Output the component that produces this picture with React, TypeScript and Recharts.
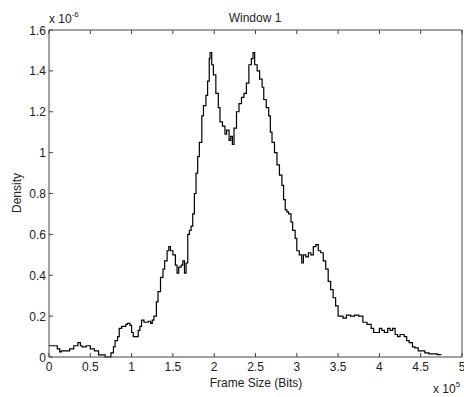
import { LineChart, Line, XAxis, YAxis } from 'recharts';

// frame size in units of 1e5 bits
const frameSizes = [
  0.0, 0.05, 0.1, 0.13, 0.15, 0.2, 0.25, 0.3, 0.35, 0.38, 0.4, 0.45, 0.5, 0.55, 0.6, 0.65, 0.68, 0.72,
  0.75, 0.78, 0.8, 0.83, 0.85, 0.88, 0.9, 0.93, 0.95, 0.98, 1.0, 1.02, 1.05, 1.08, 1.1, 1.12, 1.15, 1.18,
  1.2, 1.23, 1.25, 1.27, 1.3, 1.32, 1.35, 1.38, 1.4, 1.43, 1.45, 1.47, 1.5, 1.53, 1.55, 1.57, 1.6, 1.62,
  1.64, 1.66, 1.68, 1.7, 1.72, 1.74, 1.76, 1.78, 1.8, 1.82, 1.85, 1.87, 1.9, 1.92, 1.94, 1.95, 1.97, 1.99,
  2.02, 2.05, 2.07, 2.1, 2.13, 2.15, 2.18, 2.2, 2.22, 2.24, 2.27, 2.3, 2.33, 2.36, 2.39, 2.42, 2.45, 2.47,
  2.49, 2.52, 2.55, 2.58, 2.6, 2.63, 2.66, 2.68, 2.7, 2.73, 2.76, 2.79, 2.82, 2.84, 2.86, 2.88, 2.9, 2.93,
  2.95, 2.98, 3.0, 3.03, 3.06, 3.08, 3.11, 3.14, 3.17, 3.2, 3.23, 3.26, 3.29, 3.32, 3.35, 3.38, 3.41, 3.44,
  3.47, 3.5, 3.53, 3.56, 3.6, 3.65, 3.7, 3.75, 3.78, 3.8, 3.85, 3.9, 3.93, 3.96, 4.0, 4.03, 4.06, 4.1,
  4.13, 4.16, 4.19, 4.22, 4.25, 4.3, 4.33, 4.36, 4.4, 4.43, 4.47, 4.5, 4.55, 4.6, 4.65, 4.7, 4.75,
];

// density in units of 1e-6
const densities = [
  0.055, 0.055, 0.04, 0.025, 0.03, 0.03, 0.04, 0.055, 0.07, 0.055, 0.05, 0.055, 0.04, 0.03, 0.01, 0.01, 0.0, 0.0,
  0.02, 0.05, 0.08, 0.1, 0.14, 0.15, 0.15, 0.16, 0.165, 0.155, 0.12, 0.1, 0.1, 0.13, 0.15, 0.18, 0.17, 0.17,
  0.175, 0.165, 0.18, 0.2, 0.27, 0.32, 0.39, 0.43, 0.47, 0.52, 0.54, 0.52, 0.5, 0.45, 0.41, 0.44, 0.45, 0.47,
  0.41, 0.46, 0.6, 0.62, 0.64, 0.7, 0.8, 0.9, 0.98, 1.05, 1.18, 1.23, 1.28, 1.35, 1.46, 1.49, 1.43, 1.38,
  1.29, 1.22, 1.15, 1.13, 1.09, 1.11, 1.06, 1.08, 1.04, 1.12, 1.2, 1.24, 1.27, 1.29, 1.34, 1.43, 1.46, 1.49,
  1.43, 1.4, 1.36, 1.32, 1.26, 1.22, 1.18, 1.1, 1.05, 1.0, 0.94, 0.89, 0.84, 0.77, 0.72, 0.71, 0.7, 0.66,
  0.62, 0.58, 0.52, 0.5, 0.46, 0.5, 0.49, 0.51, 0.5, 0.54, 0.55, 0.52, 0.51, 0.47, 0.43, 0.37, 0.33, 0.29,
  0.25, 0.2, 0.2, 0.19, 0.205, 0.2, 0.205, 0.2, 0.2, 0.17, 0.16, 0.14, 0.12, 0.12, 0.14, 0.13, 0.12, 0.14,
  0.13, 0.14, 0.11, 0.1, 0.11, 0.1, 0.08, 0.07, 0.05, 0.045, 0.03, 0.03, 0.02, 0.015, 0.015, 0.012, 0.012,
];

const xTicks = [0, 0.5, 1, 1.5, 2, 2.5, 3, 3.5, 4, 4.5, 5];
const yTicks = [0, 0.2, 0.4, 0.6, 0.8, 1, 1.2, 1.4, 1.6];

const data = frameSizes.map((x, i) => ({ x, y: densities[i] }));

const FONT = '"Liberation Sans", Arial, sans-serif';
const AXIS = '#444';
const TEXT = '#222';

const BottomTick = ({ x, y, payload }: any) => (
  <g>
    <line x1={x} y1={y} x2={x} y2={y - 4} stroke={AXIS} />
    <text x={x} y={y + 14} textAnchor="middle" fontSize={12} fontFamily={FONT} fill={TEXT}>
      {payload.value}
    </text>
  </g>
);

const TopTick = ({ x, y }: any) => <line x1={x} y1={y} x2={x} y2={y + 4} stroke={AXIS} />;

const LeftTick = ({ x, y, payload }: any) => (
  <g>
    <line x1={x} y1={y} x2={x + 4} y2={y} stroke={AXIS} />
    <text x={x - 3} y={y + 4.5} textAnchor="end" fontSize={12} fontFamily={FONT} fill={TEXT}>
      {payload.value}
    </text>
  </g>
);

const RightTick = ({ x, y }: any) => <line x1={x} y1={y} x2={x - 4} y2={y} stroke={AXIS} />;

export default function App() {
  return (
    <div style={{ position: 'absolute', left: 0, top: 0, width: 464, height: 397, background: '#fff' }}>
      <LineChart width={464} height={397} data={data} margin={{ top: 0, right: 0, bottom: 0, left: 0 }}>
        <XAxis
          xAxisId="b"
          dataKey="x"
          type="number"
          domain={[0, 5]}
          ticks={xTicks}
          interval={0}
          height={40}
          tickLine={false}
          tickSize={0}
          tickMargin={0}
          stroke={AXIS}
          tick={<BottomTick />}
        />
        <XAxis
          xAxisId="t"
          orientation="top"
          dataKey="x"
          type="number"
          domain={[0, 5]}
          ticks={xTicks}
          interval={0}
          height={30}
          tickLine={false}
          tickSize={0}
          tickMargin={0}
          stroke={AXIS}
          tick={<TopTick />}
        />
        <YAxis
          yAxisId="l"
          type="number"
          domain={[0, 1.6]}
          ticks={yTicks}
          interval={0}
          width={49}
          tickLine={false}
          tickSize={0}
          tickMargin={0}
          stroke={AXIS}
          tick={<LeftTick />}
        />
        <YAxis
          yAxisId="r"
          orientation="right"
          type="number"
          domain={[0, 1.6]}
          ticks={yTicks}
          interval={0}
          width={2}
          tickLine={false}
          tickSize={0}
          tickMargin={0}
          stroke={AXIS}
          tick={<RightTick />}
        />
        <Line
          xAxisId="b"
          yAxisId="l"
          type="stepAfter"
          dataKey="y"
          stroke="#000"
          strokeWidth={1.2}
          dot={false}
          isAnimationActive={false}
        />
      </LineChart>
      <svg
        width={464}
        height={397}
        style={{ position: 'absolute', left: 0, top: 0, pointerEvents: 'none' }}
        fontFamily={FONT}
        fill={TEXT}
      >
        <text x={255} y={22} textAnchor="middle" fontSize={12}>Window 1</text>
        <text x={49} y={23} fontSize={12}>
          x 10<tspan dy={-6} fontSize={8}>-6</tspan>
        </text>
        <text x={256} y={387} textAnchor="middle" fontSize={12}>Frame Size (Bits)</text>
        <text x={433} y={393} fontSize={12}>
          x 10<tspan dy={-6} fontSize={8}>5</tspan>
        </text>
        <text x={21} y={193} textAnchor="middle" fontSize={12} transform="rotate(-90 21 193)">Density</text>
      </svg>
    </div>
  );
}
